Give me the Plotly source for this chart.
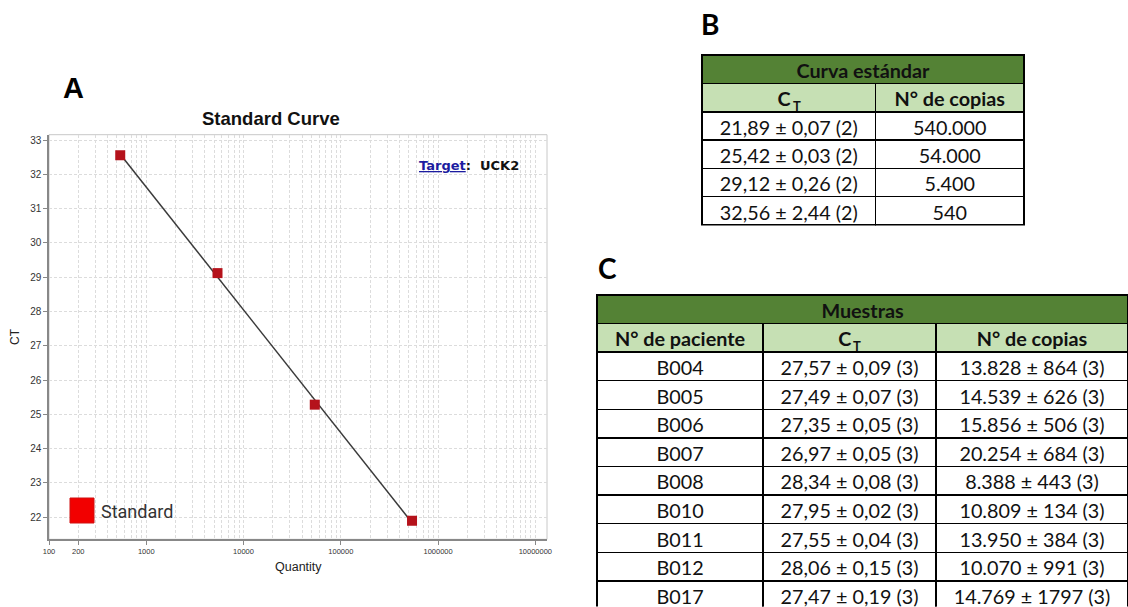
import numpy as np
import plotly.graph_objects as go

W, H = 1128, 607

# ---------------- data ----------------
std_quantity = [540, 5400, 54000, 540000]
std_ct = [32.56, 29.12, 25.28, 21.89]

x_tick_vals = [100, 200, 1000, 10000, 100000, 1000000, 10000000]
x_tick_text = ["100", "200", "1000", "10000", "100000", "1000000", "10000000"]

curve_title = "Curva estándar"
curve_headers = ["C\u00a0\u00a0", "N° de copias"]
curve_ct = ["21,89 ± 0,07 (2)", "25,42 ± 0,03 (2)", "29,12 ± 0,26 (2)", "32,56 ± 2,44 (2)"]
curve_copies = ["540.000", "54.000", "5.400", "540"]

samples_title = "Muestras"
samples_headers = ["N° de paciente", "C\u00a0\u00a0", "N° de copias"]
patients = ["B004", "B005", "B006", "B007", "B008", "B010", "B011", "B012", "B017"]
patient_ct = ["27,57 ± 0,09 (3)", "27,49 ± 0,07 (3)", "27,35 ± 0,05 (3)", "26,97 ± 0,05 (3)",
              "28,34 ± 0,08 (3)", "27,95 ± 0,02 (3)", "27,55 ± 0,04 (3)", "28,06 ± 0,15 (3)",
              "27,47 ± 0,19 (3)"]
patient_copies = ["13.828 ± 864 (3)", "14.539 ± 626 (3)", "15.856 ± 506 (3)", "20.254 ± 684 (3)",
                  "8.388 ± 443 (3)", "10.809 ± 134 (3)", "13.950 ± 384 (3)", "10.070 ± 991 (3)",
                  "14.769 ± 1797 (3)"]


def px(x):
    return x / W


def py(y):
    return 1 - y / H


DARK_GREEN = "#548235"
LIGHT_GREEN = "#C6E0B4"
TFONT = "Lato"
TSIZE = 19.8

fig = go.Figure()

# fitted line
lx = np.log10(std_quantity)
slope, intercept = np.polyfit(lx, std_ct, 1)
fit_x = [min(std_quantity), max(std_quantity)]
fit_y = [slope * np.log10(v) + intercept for v in fit_x]
fig.add_trace(go.Scatter(x=fit_x, y=fit_y, mode="lines",
                         line=dict(color="#3a3a3a", width=1.5), showlegend=False,
                         hoverinfo="skip"))
fig.add_trace(go.Scatter(x=std_quantity, y=std_ct, mode="markers",
                         marker=dict(symbol="square", size=10, color="#B5121B"),
                         showlegend=False, name="Standard"))

minor_vals = [m * 10 ** d for d in range(2, 8) for m in range(1, 10) if m * 10 ** d <= 1.4e7]
grid_col = "#dcdcdc"

fig.update_xaxes(type="log", range=[2, 7.12], domain=[px(49), px(547)], automargin=False,
                 tickvals=x_tick_vals, ticktext=x_tick_text,
                 tickfont=dict(family="Liberation Sans", size=7.5, color="#333"),
                 ticks="outside", ticklen=4, tickcolor="#888",
                 showgrid=False,
                 minor=dict(tickvals=minor_vals, showgrid=True, gridcolor=grid_col,
                            griddash="3px,2px", gridwidth=1, ticks=""),
                 showline=True, linecolor="#888", linewidth=1.5, zeroline=False)
fig.update_yaxes(range=[21.35, 33.16], domain=[py(539.3), py(134.7)], dtick=1, automargin=False,
                 tickfont=dict(family="Liberation Sans", size=10, color="#333"),
                 ticks="outside", ticklen=4, tickcolor="#888",
                 showgrid=True, gridcolor=grid_col, griddash="3px,2px", gridwidth=1,
                 showline=True, linecolor="#888", linewidth=1.5, zeroline=False)

shapes = [
    dict(type="rect", xref="paper", yref="paper", x0=px(49), x1=px(547), y0=py(539.3), y1=py(134.7),
         line=dict(color="#c8c8c8", width=1), fillcolor="rgba(0,0,0,0)", layer="between"),
    dict(type="rect", xref="paper", yref="paper", x0=px(406), x1=px(540), y0=py(193), y1=py(143),
         line=dict(width=0), fillcolor="white", layer="between"),
    dict(type="rect", xref="paper", yref="paper", x0=px(66), x1=px(177), y0=py(528), y1=py(494),
         line=dict(width=0), fillcolor="white", layer="between"),
    dict(type="rect", xref="paper", yref="paper", x0=px(70), x1=px(94), y0=py(523), y1=py(498),
         line=dict(color="#d01010", width=1), fillcolor="#F20000", layer="above"),
]

annotations = [
    dict(text="<b>Standard Curve</b>", x=px(271), y=py(118), xref="paper", yref="paper",
         showarrow=False, font=dict(family="Liberation Sans", size=18.5, color="#111"),
         xanchor="center", yanchor="middle"),
    dict(text="Quantity", x=px(298), y=py(567), xref="paper", yref="paper", showarrow=False,
         font=dict(family="Liberation Sans", size=12.5, color="#222"), xanchor="center", yanchor="middle"),
    dict(text="CT", x=px(15), y=py(337), xref="paper", yref="paper", showarrow=False, textangle=-90,
         font=dict(family="Liberation Sans", size=12, color="#222"), xanchor="center", yanchor="middle"),
    dict(text="<b><span style='color:#1c1ca0'><u>Target</u></span>:  UCK2</b>", x=px(417), y=py(165),
         xref="paper", yref="paper", showarrow=False, xanchor="left", yanchor="middle",
         font=dict(family="DejaVu Sans", size=13, color="#111")),
    dict(text="Standard", x=px(99), y=py(511), xref="paper", yref="paper", showarrow=False,
         xanchor="left", yanchor="middle", font=dict(family="Roboto", size=18, color="#333")),
    dict(text="<b>A</b>", x=px(73), y=py(88), xref="paper", yref="paper", showarrow=False,
         xanchor="center", yanchor="middle", font=dict(family="Liberation Sans", size=29, color="black")),
    dict(text="<b>B</b>", x=px(710), y=py(24), xref="paper", yref="paper", showarrow=False,
         xanchor="center", yanchor="middle", font=dict(family=TFONT, size=28, color="black")),
    dict(text="<b>C</b>", x=px(607), y=py(268), xref="paper", yref="paper", showarrow=False,
         xanchor="center", yanchor="middle", font=dict(family=TFONT, size=28, color="black")),
    # subscript T of the C_T headers
    dict(text="<b>T</b>", x=px(790.5), y=py(106), xref="paper", yref="paper", showarrow=False,
         xanchor="left", yanchor="middle", font=dict(family=TFONT, size=13, color="#111")),
    dict(text="<b>T</b>", x=px(851), y=py(346), xref="paper", yref="paper", showarrow=False,
         xanchor="left", yanchor="middle", font=dict(family=TFONT, size=13, color="#111")),
]

line_style = dict(color="black", width=1.5)
tfont = dict(family=TFONT, size=TSIZE, color="#111")
tfont_b = dict(family=TFONT, size=TSIZE, color="#111", weight="bold")
blank_cell = dict(values=[[""]], fill_color="white", line=dict(color="white", width=0), height=28.3)

# Table B : title row (its blank body row is covered by the next table)
fig.add_trace(go.Table(
    domain=dict(x=[px(702), px(1025)], y=[py(112), py(55)]),
    header=dict(values=[curve_title], fill_color=DARK_GREEN, line=line_style,
                font=tfont_b, height=28.5, align="center"),
    cells=blank_cell))
fig.add_trace(go.Table(
    domain=dict(x=[px(702), px(1025)], y=[py(226), py(83.5)]),
    columnwidth=[174, 149],
    header=dict(values=curve_headers, fill_color=LIGHT_GREEN,
                line=line_style, font=tfont_b, height=28.3, align="center"),
    cells=dict(values=[curve_ct, curve_copies], fill_color="white", line=line_style,
               font=tfont, height=28.3, align="center")))

# Table C
fig.add_trace(go.Table(
    domain=dict(x=[px(597), 1], y=[py(352), py(295)]),
    header=dict(values=[samples_title], fill_color=DARK_GREEN, line=line_style,
                font=tfont_b, height=28.5, align="center"),
    cells=blank_cell))
fig.add_trace(go.Table(
    domain=dict(x=[px(597), 1], y=[0, py(323.5)]),
    columnwidth=[166, 173, 192],
    header=dict(values=samples_headers,
                fill_color=LIGHT_GREEN, line=line_style, font=tfont_b, height=28.6, align="center"),
    cells=dict(values=[patients, patient_ct, patient_copies], fill_color="white", line=line_style,
               font=tfont, height=28.6, align="center")))

fig.update_layout(width=W, height=H, margin=dict(l=0, r=0, t=0, b=0),
                  paper_bgcolor="white", plot_bgcolor="white",
                  shapes=shapes, annotations=annotations, showlegend=False)

fig.write_html("out.html")
